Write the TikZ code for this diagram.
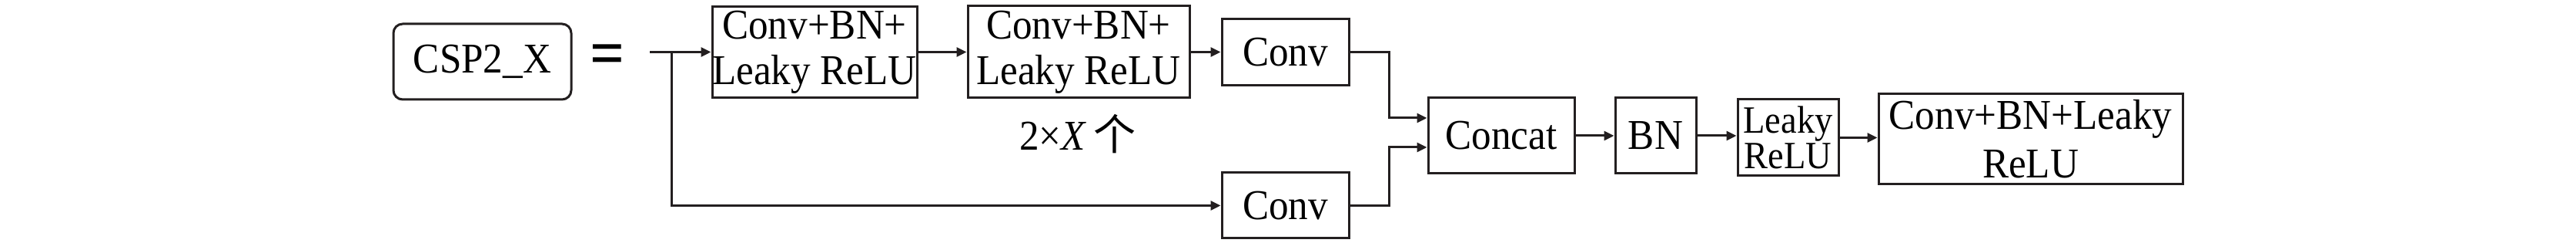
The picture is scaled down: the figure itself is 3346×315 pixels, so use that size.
\documentclass[tikz,border=0pt]{standalone}
\usepackage{fontspec}
\setmainfont{Liberation Serif}[FakeStretch=0.93]
\newfontfamily\cjk{Noto Sans CJK SC}
\usepackage{tikz}
\usetikzlibrary{arrows.meta,calc,positioning}
\definecolor{figline}{RGB}{35,31,32}

\begin{document}
\begin{tikzpicture}[x=0.2pt,y=-0.2pt,>={Triangle[length=2.6pt,width=2.4pt]},
  blk/.style={draw=figline,line width=0.6pt,inner sep=0pt,align=center,
    font=\fontsize{11}{11.8}\selectfont},
  link/.style={draw=figline,line width=0.6pt,->}]
  \useasboundingbox (0,0) rectangle (3346,315);
  % left side
  \node[blk,rounded corners=2.4pt,minimum width=46.2pt,minimum height=19.6pt] (csp) at (626.5,80) {CSP2\_X};
  \node[inner sep=0pt,font=\fontsize{17}{17}\selectfont\bfseries] (eq) at (789,78) {=};
  \coordinate (in) at (844,67.5);
  \coordinate (split) at (872,67.5);
  % upper branch
  \node[blk,minimum width=53.2pt,minimum height=23.6pt] (cbl1) at (1058,67.5) {Conv+BN+\\Leaky ReLU};
  \node[blk,minimum width=57.6pt,minimum height=23.8pt] (cbl2) at (1401,67.5) {Conv+BN+\\Leaky ReLU};
  \node[blk,minimum width=33pt,minimum height=17.2pt] (conv1) at (1669.5,67.5) {Conv};
  \node[font=\fontsize{11}{12}\selectfont] (rep) at (1400,174) {2×\textit{X}\,{\cjk 个}};
  % lower branch
  \node[blk,minimum width=33pt,minimum height=17pt] (conv2) at (1669.5,266.5) {Conv};
  % output chain
  \node[blk,minimum width=38pt,minimum height=19.6pt] (concat) at (1950,176) {Concat};
  \node[blk,minimum width=21pt,minimum height=19.6pt] (bn) at (2150.5,176) {BN};
  \node[blk,minimum width=26.2pt,minimum height=19.8pt,font=\fontsize{10}{9.2}\selectfont] (lrelu) at (2322.5,178.5) {Leaky\\ReLU};
  \node[blk,minimum width=79pt,minimum height=23.4pt,font=\fontsize{11}{12.6}\selectfont] (cbl3) at (2637.5,180.5) {Conv+BN+Leaky\\ReLU};
  % connectors
  \draw[link] (in) -- (cbl1.west);
  \draw[link] (cbl1) -- (cbl2);
  \draw[link] (cbl2) -- (conv1);
  \draw[link] (split) |- (conv2.west);
  \draw[link] (conv1.east) -- ++(51,0) |- ($(concat.west)+(0,-23)$);
  \draw[link] (conv2.east) -- ++(51,0) |- ($(concat.west)+(0,15)$);
  \draw[link] (concat) -- (bn);
  \draw[link] (bn.east) -- (bn.east -| lrelu.west);
  \draw[link] (lrelu.east) -- (lrelu.east -| cbl3.west);
\end{tikzpicture}
\end{document}
